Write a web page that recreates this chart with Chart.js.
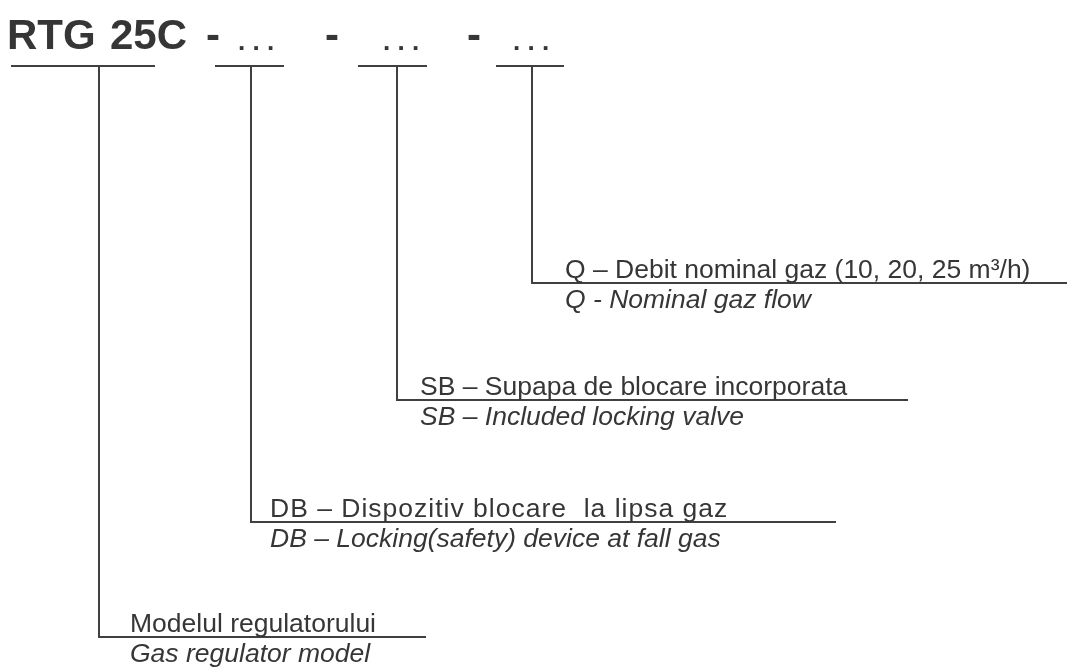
<!DOCTYPE html>
<html>
<head>
<meta charset="utf-8">
<script src="https://cdn.jsdelivr.net/npm/chart.js@4"></script>
<style>
  html, body { margin: 0; padding: 0; background: #ffffff; overflow: hidden; }
  canvas { display: block; }
</style>
</head>
<body>
<canvas id="codeChart" width="1067" height="671"></canvas>
<script>
// =======================================
// ORDER CODE DIAGRAM DATA
// =======================================

// title pieces of the order code
const codeParts = ["RTG", "25C", "-", ". . .", "-", ". . .", "-", ". . ."];
const codeX = [7, 110, 206, 238, 325, 383, 467, 513];

// field descriptions (romanian / english), left to right in the code
const fieldsRo = [
    "Modelul regulatorului",
    "DB – Dispozitiv blocare  la lipsa gaz",
    "SB – Supapa de blocare incorporata",
    "Q – Debit nominal gaz (10, 20, 25 m³/h)"
];
const fieldsEn = [
    "Gas regulator model",
    "DB – Locking(safety) device at fall gas",
    "SB – Included locking valve",
    "Q - Nominal gaz flow"
];
// the scanned DB line is set a little looser than the others
const roSpacing = ["0px", "1px", "0px", "0px"];

// leader lines: cap bar under each code field, stem down, then row line
const capY = 66;
const capFrom = [11, 215, 358, 496];
const capTo = [155, 284, 427, 564];
const stemX = [99, 251, 397, 532];
const rowY = [637, 522, 400, 283];
const rowEnd = [426, 836, 908, 1067];
const textX = [130, 270, 420, 565];

const INK = "#363636";
const LINE = "#404040";

// build datasets from the arrays
const datasets = [];
stemX.forEach((sx, i) => {
    datasets.push({
        data: [{x: capFrom[i], y: capY}, {x: capTo[i], y: capY}],
        showLine: true, borderColor: LINE, borderWidth: 2,
        pointRadius: 0, fill: false
    });
    datasets.push({
        data: [{x: sx, y: capY}, {x: sx, y: rowY[i]}, {x: rowEnd[i], y: rowY[i]}],
        showLine: true, borderColor: LINE, borderWidth: 2,
        pointRadius: 0, fill: false
    });
});

// text drawn at scale positions
const textPlugin = {
    id: "codeText",
    afterDatasetsDraw(chart) {
        const ctx = chart.ctx;
        const xs = chart.scales.x;
        const ys = chart.scales.y;
        ctx.save();
        ctx.fillStyle = INK;
        ctx.textBaseline = "alphabetic";
        ctx.textAlign = "left";

        codeParts.forEach((t, i) => {
            const dots = t.indexOf(".") >= 0;
            ctx.font = dots ? "bold 26px 'Liberation Sans', Arial, sans-serif"
                            : "bold 42px 'Liberation Sans', Arial, sans-serif";
            ctx.fillText(t, xs.getPixelForValue(codeX[i]), ys.getPixelForValue(dots ? 50 : 49));
        });

        fieldsRo.forEach((t, i) => {
            const x = xs.getPixelForValue(textX[i]);
            ctx.font = "26.5px 'Liberation Sans', Arial, sans-serif";
            ctx.letterSpacing = roSpacing[i];
            ctx.fillText(t, x, ys.getPixelForValue(rowY[i] - 5));
            ctx.letterSpacing = "0px";
            ctx.font = "italic 26.5px 'Liberation Sans', Arial, sans-serif";
            ctx.fillText(fieldsEn[i], x, ys.getPixelForValue(rowY[i] + 25));
        });
        ctx.restore();
    }
};

const codeChart = new Chart(
document.getElementById("codeChart"),
{
    type: "scatter",
    data: { datasets: datasets },
    options: {
        responsive: false,
        animation: false,
        events: [],
        layout: { padding: 0 },
        scales: {
            x: { type: "linear", min: 0, max: 1067, display: false },
            y: { type: "linear", min: 0, max: 671, reverse: true, display: false }
        },
        plugins: {
            legend: { display: false },
            tooltip: { enabled: false }
        }
    },
    plugins: [textPlugin]
});
</script>
</body>
</html>
